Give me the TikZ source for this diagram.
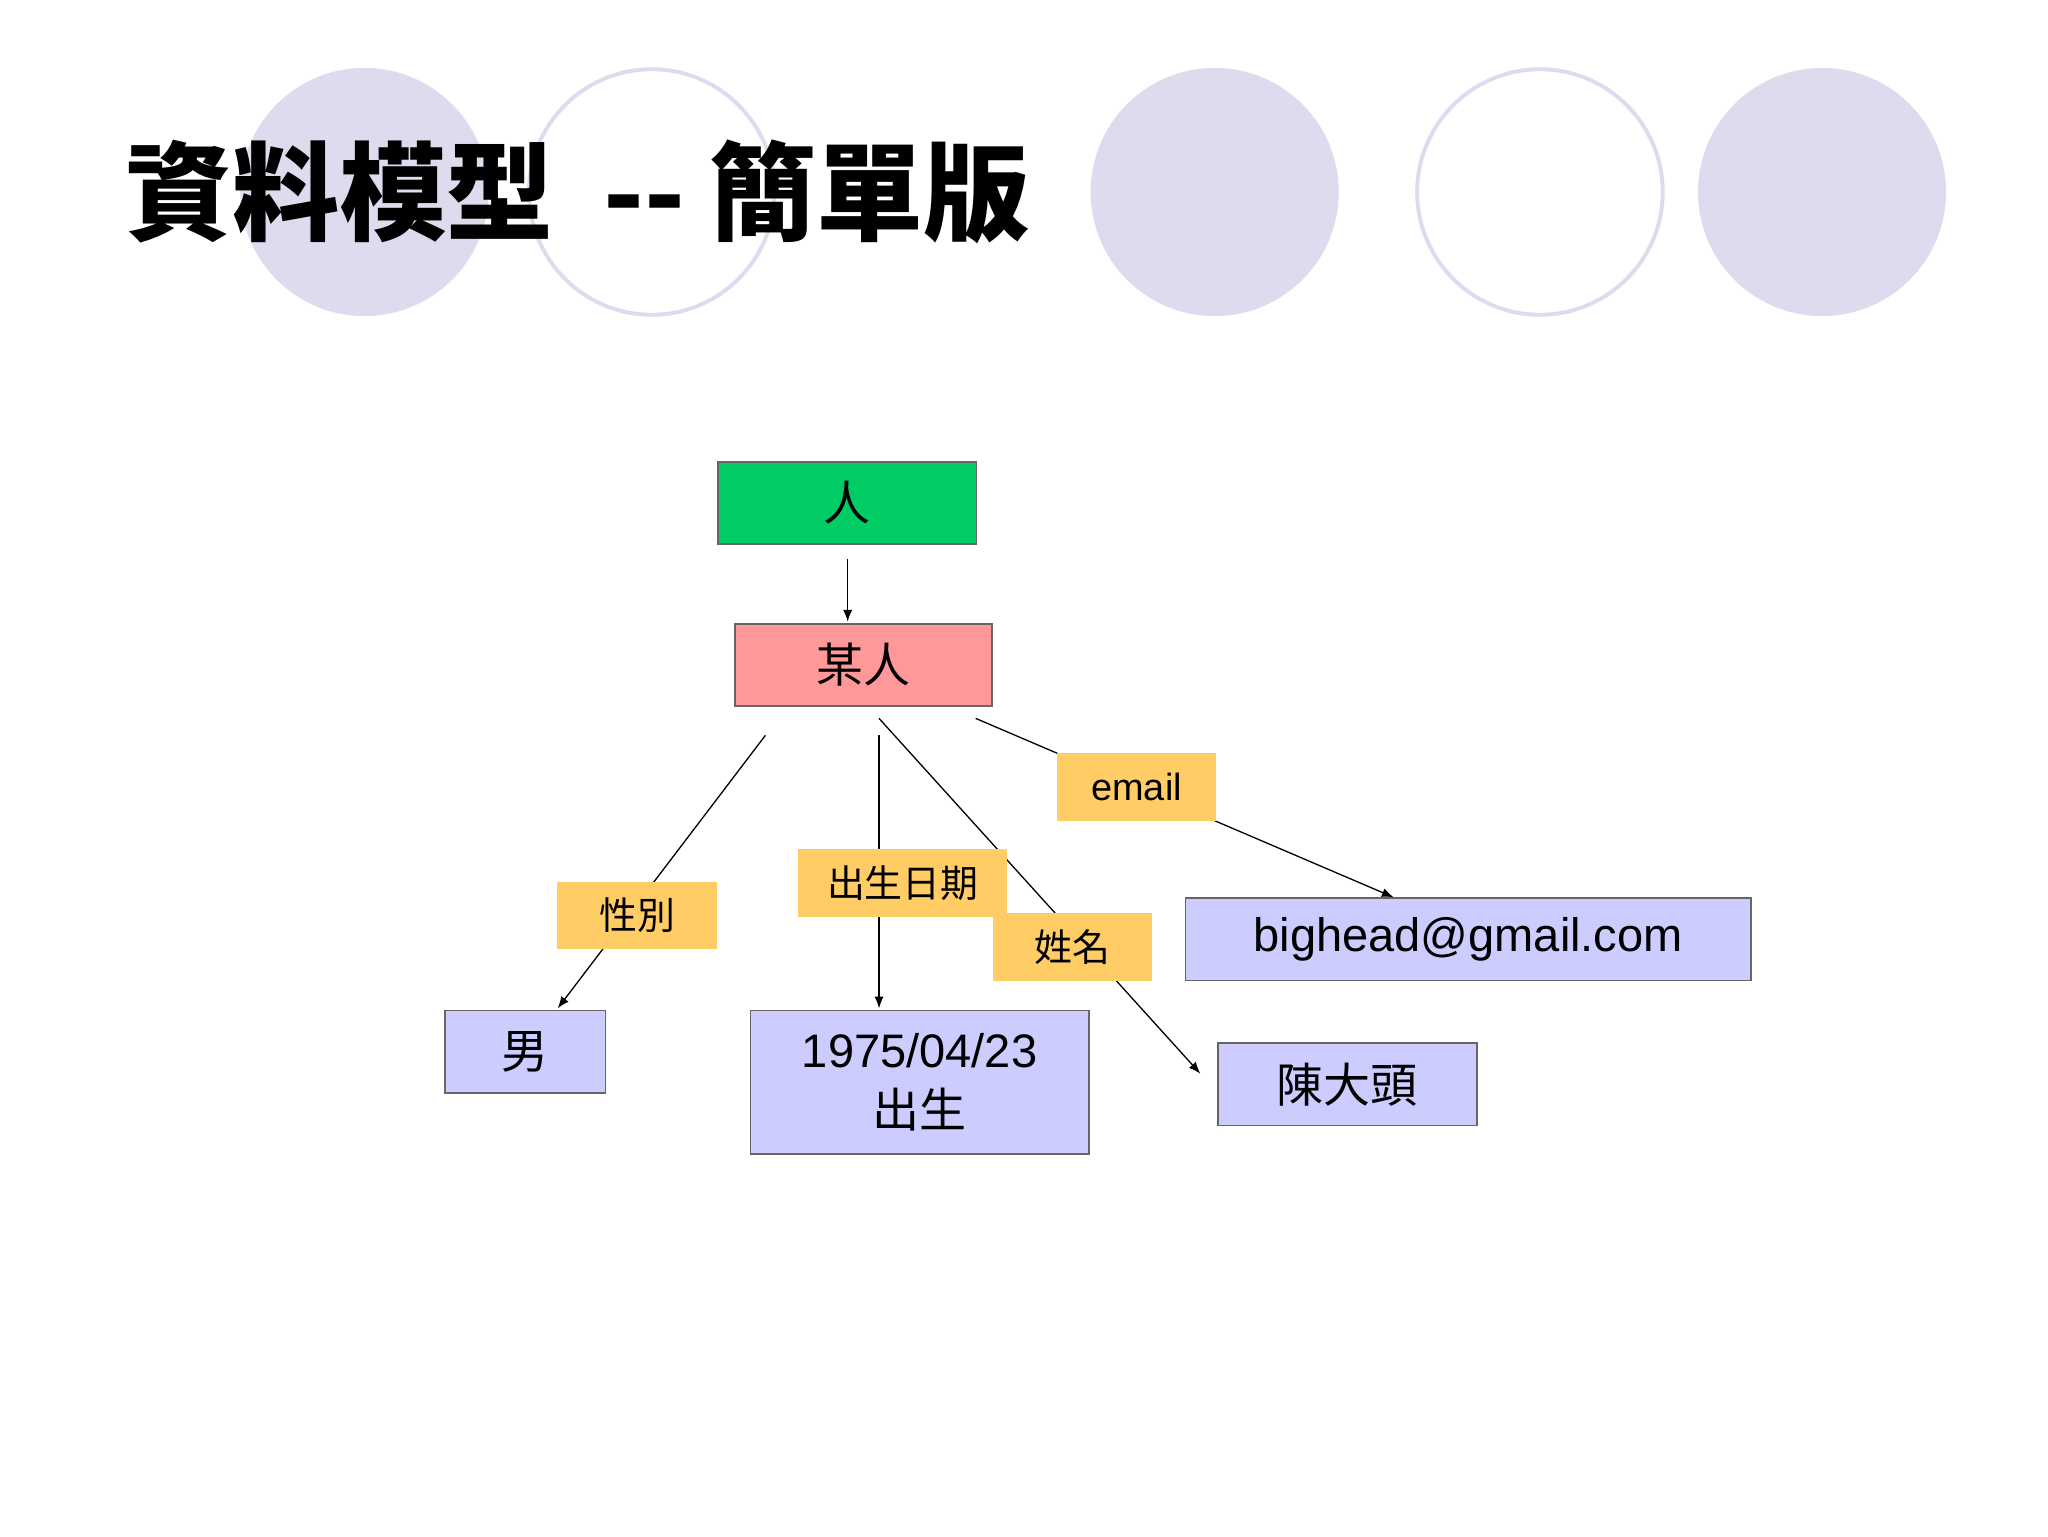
\documentclass[tikz,border=0pt]{standalone}
\usepackage{fontspec}
\setmainfont{Liberation Sans}
\newfontfamily\cjk{Noto Sans CJK TC}
\usetikzlibrary{arrows.meta}
\definecolor{circ}{HTML}{DCDCEE}
\definecolor{lav}{HTML}{CCCCFF}
\definecolor{org}{HTML}{FFCC66}
\definecolor{grn}{HTML}{00CC66}
\definecolor{pnk}{HTML}{FF9999}
\tikzset{
 box/.style={draw=gray!80!black, line width=1.2pt, inner sep=0pt, anchor=north west},
 lbl/.style={fill=org, inner sep=0pt, anchor=north west},
 conn/.style={line width=1pt, -{Latex[length=9pt,width=7pt]}},
}
\begin{document}
\begin{tikzpicture}[x=1pt,y=-1pt]
\useasboundingbox (0,0) rectangle (1568,1176);
\fill[white] (0,0) rectangle (1568,1176);
\foreach \x in {279,930,1395} \fill[circ] (\x,147) circle (95);
\foreach \x in {499,1179} \draw[circ, line width=3pt] (\x,147) circle (94);
\node[anchor=base west, inner sep=0pt, font=\cjk\bfseries\fontsize{82}{90}\selectfont] (title) at (96,178) {資料模型\ \ --\ 簡單版};
% nodes
\node[box, fill=grn, minimum width=198, minimum height=63, font=\cjk\fontsize{36}{40}\selectfont] (ren) at (549,353) {人};
\node[box, fill=pnk, minimum width=197, minimum height=63, font=\cjk\fontsize{36}{40}\selectfont] (mou) at (562,477) {某人};
\node[box, fill=lav, minimum width=123, minimum height=63, font=\cjk\fontsize{36}{40}\selectfont] (nan) at (340,773) {男};
\node[box, fill=lav, minimum width=259, minimum height=110, align=center, font=\fontsize{36}{46}\selectfont] (date) at (574,773) {1975/04/23\\{\cjk 出生}};
\node[box, fill=lav, minimum width=198, minimum height=63, font=\cjk\fontsize{36}{40}\selectfont] (chen) at (932,798) {陳大頭};
\node[box, fill=lav, minimum width=433, minimum height=63, font=\fontsize{36}{40}\selectfont] (mail) at (907,687) {bighead@gmail.com};
% connector ends
\coordinate (a0) at (649,428); \coordinate (a1) at (649,476);
\coordinate (b0) at (586,563); \coordinate (b1) at (427,772);
\coordinate (c0) at (673,563); \coordinate (c1) at (673,772);
\coordinate (d0) at (673,550); \coordinate (d1) at (919,822);
\coordinate (e0) at (747,550); \coordinate (e1) at (1067,687);
\draw[conn] (a0) -- (a1);
\draw[conn] (b0) -- (b1);
\draw[conn] (c0) -- (c1);
\draw[conn] (d0) -- (d1);
\draw[conn] (e0) -- (e1);
% labels
\node[lbl, minimum width=123, minimum height=51, font=\cjk\fontsize{29}{32}\selectfont] (xb) at (426,675) {性別};
\node[lbl, minimum width=160, minimum height=52, font=\cjk\fontsize{29}{32}\selectfont] (cs) at (611,650) {出生日期};
\node[lbl, minimum width=122, minimum height=52, font=\cjk\fontsize{29}{32}\selectfont] (xm) at (760,699) {姓名};
\node[lbl, minimum width=122, minimum height=52, font=\fontsize{29}{32}\selectfont] (em) at (809,576) {email};
\end{tikzpicture}
\end{document}
